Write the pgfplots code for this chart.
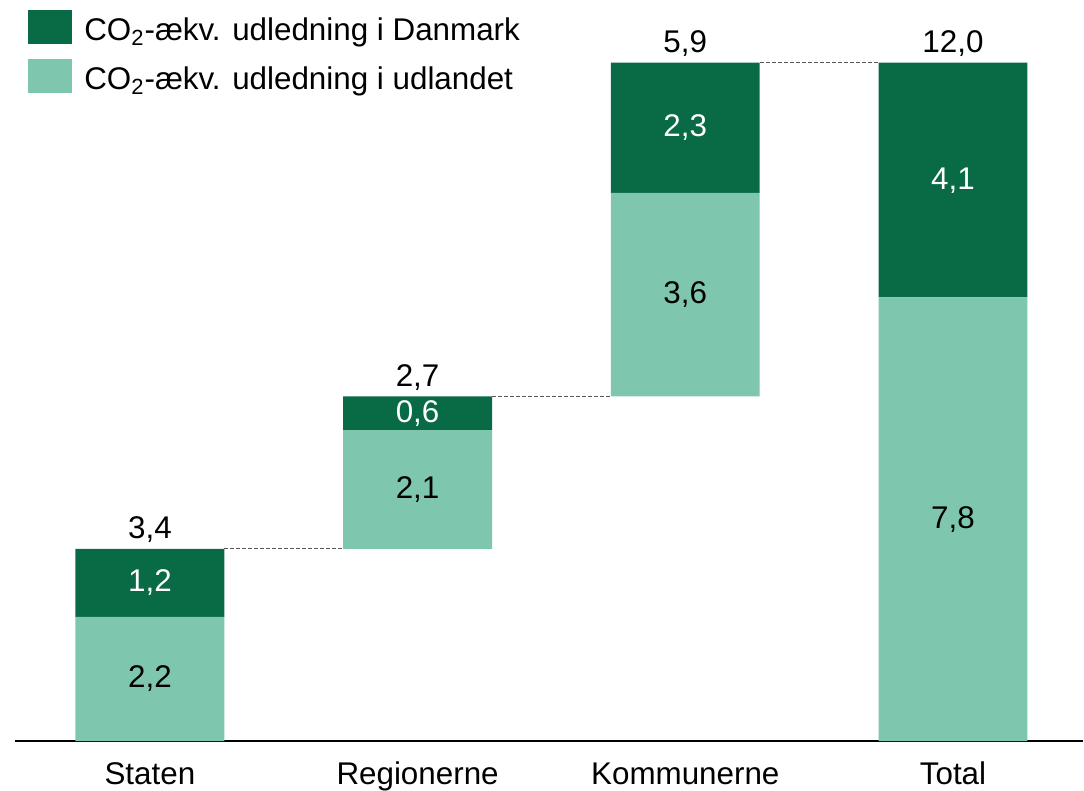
\documentclass[border=0pt]{standalone}
\usepackage{fontspec}
\setmainfont{Liberation Sans}
\usepackage{pgfplots}
\pgfplotsset{compat=1.18}
\definecolor{dkgreen}{HTML}{086B45}
\definecolor{ltgreen}{HTML}{7FC6AE}

\begin{document}
\begin{tikzpicture}[font=\fontsize{15.7}{18.8}\selectfont]
\pgfplotsset{
  wf/.style={width=534.5pt, height=371pt, scale only axis,
    xmin=-0.504, xmax=3.485, ymin=0, ymax=13.11,
    enlargelimits=false, clip=false},
}
% stacked waterfall bars
\begin{axis}[wf, ybar stacked, bar width=74.5pt,
    axis x line*=bottom, axis y line=none,
    x axis line style={line width=1.2pt, black, -},
    xtick={0,1,2,3},
    xticklabels={Staten,Regionerne,Kommunerne,Total},
    major tick length=0pt,
    xticklabel style={inner sep=0pt, anchor=base, yshift=-21.5pt},
    reverse legend,
    legend cell align=left,
    legend image code/.code={\fill[#1] (0pt,-7pt) rectangle (22pt,10pt);},
    legend style={at={(0,1)}, anchor=north west, xshift=6.5pt, yshift=-5pt,
      draw=none, fill=none, inner sep=0pt, row sep=7.5pt,
      nodes={inner sep=0pt},
      /tikz/every odd column/.append style={column sep=6pt}},
]
% invisible base
\addplot[draw=none, fill=none, forget plot] coordinates {(0,0) (1,3.4) (2,6.1) (3,0)};
% udlandet
\addplot[draw=none, fill=ltgreen] coordinates {(0,2.2) (1,2.1) (2,3.6) (3,7.85)};
\addlegendentry{CO\textsubscript{2}-ækv. udledning i udlandet}
% Danmark
\addplot[draw=none, fill=dkgreen] coordinates {(0,1.2) (1,0.6) (2,2.3) (3,4.15)};
\addlegendentry{CO\textsubscript{2}-ækv. udledning i Danmark}
\end{axis}

% connectors and value labels
\begin{axis}[wf, hide axis,
    every node near coord/.append style={inner sep=0pt},
]
\addplot[gray!70!black, line width=0.5pt, dash pattern=on 2pt off 1pt] coordinates {(0.278,3.4) (0.722,3.4)};
\addplot[gray!70!black, line width=0.5pt, dash pattern=on 2pt off 1pt] coordinates {(1.278,6.1) (1.722,6.1)};
\addplot[gray!70!black, line width=0.5pt, dash pattern=on 2pt off 1pt] coordinates {(2.278,12.0) (2.722,12.0)};
% labels in light segments
\addplot[only marks, mark=*, mark size=0pt, mark options={draw=none, fill=none},
    point meta=explicit symbolic, nodes near coords,
    every node near coord/.append style={anchor=center, text=black}]
  coordinates {(0,1.1) [2,2] (1,4.45) [2,1] (2,7.9) [3,6] (3,3.92) [7,8]};
% labels in dark segments
\addplot[only marks, mark=*, mark size=0pt, mark options={draw=none, fill=none},
    point meta=explicit symbolic, nodes near coords,
    every node near coord/.append style={anchor=center, text=white}]
  coordinates {(0,2.8) [1,2] (1,5.8) [0,6] (2,10.85) [2,3] (3,9.92) [4,1]};
% totals above bars
\addplot[only marks, mark=*, mark size=0pt, mark options={draw=none, fill=none},
    point meta=explicit symbolic, nodes near coords,
    every node near coord/.append style={anchor=base, yshift=5pt, text=black}]
  coordinates {(0,3.4) [3,4] (1,6.1) [2,7] (2,12.0) [5,9] (3,12.0) [12,0]};
\end{axis}
\path ([xshift=-7.5pt]current axis.south west) (current axis.north east);
\end{tikzpicture}
\end{document}
